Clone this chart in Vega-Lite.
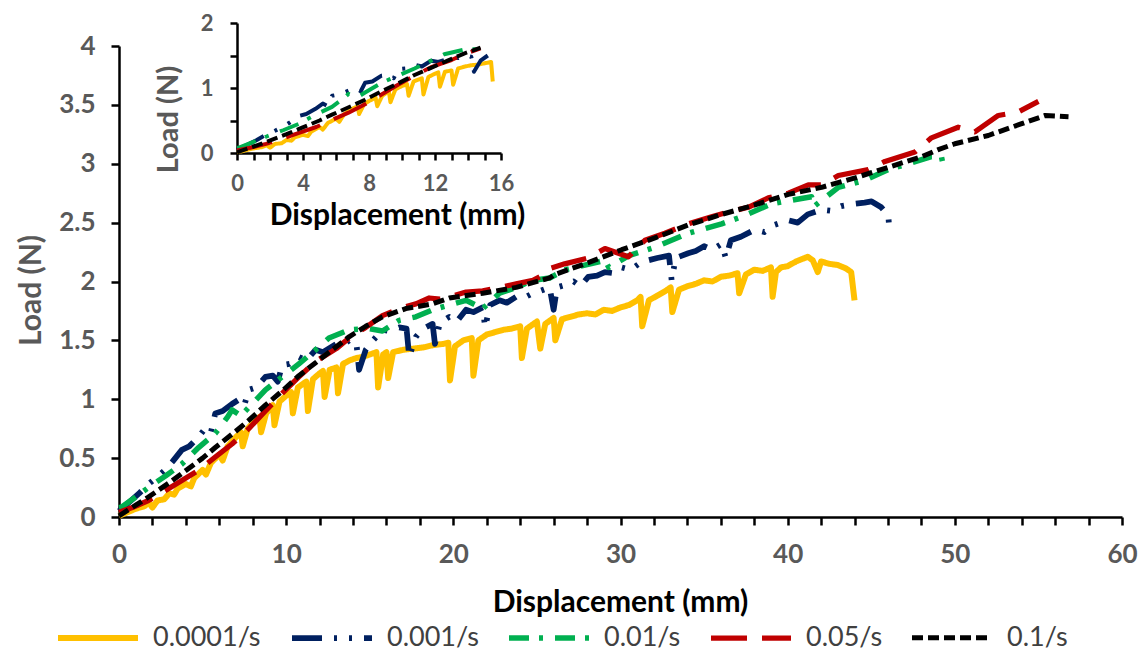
{
"$schema": "https://vega.github.io/schema/vega-lite/v6.json",
"width": 1003, "height": 471,
"autosize": {"type": "none"},
"padding": {"left": 119, "top": 46, "right": 23, "bottom": 134},
"background": "white",
"config": {
 "view": {"stroke": null},
 "font": "Lato",
 "axis": {"grid": false, "domainColor": "black", "domainWidth": 2.5, "tickColor": "black", "tickWidth": 2.5, "labelColor": "#595959", "labelFont": "Lato", "labelFontWeight": "bold", "titleFont": "Lato", "titleFontWeight": "bold", "labelFlush": false, "labelOverlap": false, "labelBound": false}
},
"data": {"values": [
{"s":"0.0001/s","x":0,"y":0.01},{"s":"0.0001/s","x":0.5,"y":0.04},{"s":"0.0001/s","x":1,"y":0.07},{"s":"0.0001/s","x":1.5,"y":0.09},{"s":"0.0001/s","x":1.8,"y":0.12},{"s":"0.0001/s","x":2.0,"y":0.08},{"s":"0.0001/s","x":2.3,"y":0.14},{"s":"0.0001/s","x":2.7,"y":0.15},{"s":"0.0001/s","x":3,"y":0.2},{"s":"0.0001/s","x":3.3,"y":0.19},{"s":"0.0001/s","x":3.5,"y":0.24},{"s":"0.0001/s","x":4,"y":0.28},{"s":"0.0001/s","x":4.3,"y":0.26},{"s":"0.0001/s","x":4.5,"y":0.33},{"s":"0.0001/s","x":5,"y":0.4},{"s":"0.0001/s","x":5.2,"y":0.36},{"s":"0.0001/s","x":5.5,"y":0.46},{"s":"0.0001/s","x":6,"y":0.53},{"s":"0.0001/s","x":6.2,"y":0.48},{"s":"0.0001/s","x":6.5,"y":0.6},{"s":"0.0001/s","x":7,"y":0.68},{"s":"0.0001/s","x":7.3,"y":0.72},{"s":"0.0001/s","x":7.4,"y":0.6},{"s":"0.0001/s","x":7.7,"y":0.75},{"s":"0.0001/s","x":8,"y":0.8},{"s":"0.0001/s","x":8.4,"y":0.85},{"s":"0.0001/s","x":8.5,"y":0.72},{"s":"0.0001/s","x":8.8,"y":0.88},{"s":"0.0001/s","x":9.2,"y":0.95},{"s":"0.0001/s","x":9.3,"y":0.78},{"s":"0.0001/s","x":9.6,"y":0.98},{"s":"0.0001/s","x":10,"y":1.03},{"s":"0.0001/s","x":10.3,"y":1.06},{"s":"0.0001/s","x":10.4,"y":0.88},{"s":"0.0001/s","x":10.7,"y":1.1},{"s":"0.0001/s","x":11,"y":1.13},{"s":"0.0001/s","x":11.2,"y":1.15},{"s":"0.0001/s","x":11.3,"y":0.9},{"s":"0.0001/s","x":11.6,"y":1.17},{"s":"0.0001/s","x":12.0,"y":1.22},{"s":"0.0001/s","x":12.2,"y":1.24},{"s":"0.0001/s","x":12.3,"y":1.02},{"s":"0.0001/s","x":12.6,"y":1.25},{"s":"0.0001/s","x":13,"y":1.27},{"s":"0.0001/s","x":13.1,"y":1.05},{"s":"0.0001/s","x":13.4,"y":1.3},{"s":"0.0001/s","x":13.8,"y":1.33},{"s":"0.0001/s","x":14.2,"y":1.35},{"s":"0.0001/s","x":14.6,"y":1.36},{"s":"0.0001/s","x":15.0,"y":1.38},{"s":"0.0001/s","x":15.4,"y":1.4},{"s":"0.0001/s","x":15.5,"y":1.1},{"s":"0.0001/s","x":15.8,"y":1.38},{"s":"0.0001/s","x":16.0,"y":1.4},{"s":"0.0001/s","x":16.1,"y":1.18},{"s":"0.0001/s","x":16.4,"y":1.4},{"s":"0.0001/s","x":17,"y":1.42},{"s":"0.0001/s","x":17.6,"y":1.43},{"s":"0.0001/s","x":18.2,"y":1.44},{"s":"0.0001/s","x":18.8,"y":1.46},{"s":"0.0001/s","x":19.4,"y":1.47},{"s":"0.0001/s","x":19.7,"y":1.48},{"s":"0.0001/s","x":19.8,"y":1.16},{"s":"0.0001/s","x":20.1,"y":1.45},{"s":"0.0001/s","x":20.6,"y":1.5},{"s":"0.0001/s","x":21.1,"y":1.52},{"s":"0.0001/s","x":21.2,"y":1.2},{"s":"0.0001/s","x":21.5,"y":1.5},{"s":"0.0001/s","x":22,"y":1.55},{"s":"0.0001/s","x":22.5,"y":1.57},{"s":"0.0001/s","x":23,"y":1.59},{"s":"0.0001/s","x":23.5,"y":1.6},{"s":"0.0001/s","x":24.0,"y":1.62},{"s":"0.0001/s","x":24.1,"y":1.35},{"s":"0.0001/s","x":24.4,"y":1.6},{"s":"0.0001/s","x":25,"y":1.66},{"s":"0.0001/s","x":25.2,"y":1.43},{"s":"0.0001/s","x":25.5,"y":1.64},{"s":"0.0001/s","x":26,"y":1.69},{"s":"0.0001/s","x":26.1,"y":1.5},{"s":"0.0001/s","x":26.5,"y":1.68},{"s":"0.0001/s","x":27,"y":1.7},{"s":"0.0001/s","x":27.5,"y":1.72},{"s":"0.0001/s","x":28,"y":1.73},{"s":"0.0001/s","x":28.5,"y":1.72},{"s":"0.0001/s","x":29,"y":1.76},{"s":"0.0001/s","x":29.5,"y":1.75},{"s":"0.0001/s","x":30,"y":1.78},{"s":"0.0001/s","x":30.5,"y":1.8},{"s":"0.0001/s","x":31,"y":1.84},{"s":"0.0001/s","x":31.2,"y":1.87},{"s":"0.0001/s","x":31.3,"y":1.62},{"s":"0.0001/s","x":31.7,"y":1.84},{"s":"0.0001/s","x":32.2,"y":1.88},{"s":"0.0001/s","x":32.7,"y":1.92},{"s":"0.0001/s","x":33.0,"y":1.95},{"s":"0.0001/s","x":33.1,"y":1.74},{"s":"0.0001/s","x":33.5,"y":1.93},{"s":"0.0001/s","x":34,"y":1.96},{"s":"0.0001/s","x":34.5,"y":1.98},{"s":"0.0001/s","x":35,"y":2.01},{"s":"0.0001/s","x":35.5,"y":2.0},{"s":"0.0001/s","x":36,"y":2.04},{"s":"0.0001/s","x":36.5,"y":2.05},{"s":"0.0001/s","x":37.0,"y":2.07},{"s":"0.0001/s","x":37.1,"y":1.9},{"s":"0.0001/s","x":37.5,"y":2.06},{"s":"0.0001/s","x":38,"y":2.1},{"s":"0.0001/s","x":38.5,"y":2.09},{"s":"0.0001/s","x":39.0,"y":2.12},{"s":"0.0001/s","x":39.1,"y":1.87},{"s":"0.0001/s","x":39.3,"y":2.08},{"s":"0.0001/s","x":39.6,"y":2.12},{"s":"0.0001/s","x":40,"y":2.13},{"s":"0.0001/s","x":40.5,"y":2.17},{"s":"0.0001/s","x":41.2,"y":2.21},{"s":"0.0001/s","x":41.5,"y":2.18},{"s":"0.0001/s","x":41.8,"y":2.08},{"s":"0.0001/s","x":42.0,"y":2.17},{"s":"0.0001/s","x":42.5,"y":2.15},{"s":"0.0001/s","x":43.0,"y":2.14},{"s":"0.0001/s","x":43.5,"y":2.11},{"s":"0.0001/s","x":43.8,"y":2.08},{"s":"0.0001/s","x":44.0,"y":1.84},
{"s":"0.001/s","x":0,"y":0.05},{"s":"0.001/s","x":0.4,"y":0.1},{"s":"0.001/s","x":0.8,"y":0.15},{"s":"0.001/s","x":1.2,"y":0.2},{"s":"0.001/s","x":1.76,"y":0.28},{"s":"0.001/s","x":2.2,"y":0.33},{"s":"0.001/s","x":2.76,"y":0.4},{"s":"0.001/s","x":3.2,"y":0.47},{"s":"0.001/s","x":3.76,"y":0.57},{"s":"0.001/s","x":4.2,"y":0.6},{"s":"0.001/s","x":4.76,"y":0.68},{"s":"0.001/s","x":5.2,"y":0.76},{"s":"0.001/s","x":5.5,"y":0.72},{"s":"0.001/s","x":5.76,"y":0.88},{"s":"0.001/s","x":6.2,"y":0.9},{"s":"0.001/s","x":6.76,"y":0.96},{"s":"0.001/s","x":7.2,"y":1.0},{"s":"0.001/s","x":7.5,"y":0.95},{"s":"0.001/s","x":7.76,"y":1.08},{"s":"0.001/s","x":8.2,"y":1.1},{"s":"0.001/s","x":8.76,"y":1.19},{"s":"0.001/s","x":9.2,"y":1.2},{"s":"0.001/s","x":9.5,"y":1.15},{"s":"0.001/s","x":9.76,"y":1.29},{"s":"0.001/s","x":10.2,"y":1.3},{"s":"0.001/s","x":10.76,"y":1.36},{"s":"0.001/s","x":11.2,"y":1.33},{"s":"0.001/s","x":11.76,"y":1.42},{"s":"0.001/s","x":12.2,"y":1.4},{"s":"0.001/s","x":13.0,"y":1.47},{"s":"0.001/s","x":13.4,"y":1.46},{"s":"0.001/s","x":13.76,"y":1.5},{"s":"0.001/s","x":14.2,"y":1.48},{"s":"0.001/s","x":14.36,"y":1.25},{"s":"0.001/s","x":14.76,"y":1.42},{"s":"0.001/s","x":15.2,"y":1.5},{"s":"0.001/s","x":15.76,"y":1.59},{"s":"0.001/s","x":16.2,"y":1.58},{"s":"0.001/s","x":16.76,"y":1.61},{"s":"0.001/s","x":17.2,"y":1.6},{"s":"0.001/s","x":17.36,"y":1.36},{"s":"0.001/s","x":17.76,"y":1.53},{"s":"0.001/s","x":18.2,"y":1.6},{"s":"0.001/s","x":18.76,"y":1.64},{"s":"0.001/s","x":18.9,"y":1.47},{"s":"0.001/s","x":19.2,"y":1.65},{"s":"0.001/s","x":19.76,"y":1.7},{"s":"0.001/s","x":20.2,"y":1.66},{"s":"0.001/s","x":20.76,"y":1.76},{"s":"0.001/s","x":21.2,"y":1.74},{"s":"0.001/s","x":21.76,"y":1.78},{"s":"0.001/s","x":21.9,"y":1.61},{"s":"0.001/s","x":22.2,"y":1.8},{"s":"0.001/s","x":22.76,"y":1.84},{"s":"0.001/s","x":23.2,"y":1.82},{"s":"0.001/s","x":23.76,"y":1.87},{"s":"0.001/s","x":24.2,"y":1.86},{"s":"0.001/s","x":24.76,"y":1.9},{"s":"0.001/s","x":25.2,"y":1.92},{"s":"0.001/s","x":25.76,"y":1.95},{"s":"0.001/s","x":26.0,"y":1.76},{"s":"0.001/s","x":26.2,"y":1.95},{"s":"0.001/s","x":26.7,"y":1.97},{"s":"0.001/s","x":27.2,"y":2.0},{"s":"0.001/s","x":27.6,"y":1.96},{"s":"0.001/s","x":28.07,"y":2.04},{"s":"0.001/s","x":28.6,"y":2.05},{"s":"0.001/s","x":29.07,"y":2.08},{"s":"0.001/s","x":29.6,"y":2.07},{"s":"0.001/s","x":30.07,"y":2.12},{"s":"0.001/s","x":30.6,"y":2.1},{"s":"0.001/s","x":31.2,"y":2.16},{"s":"0.001/s","x":31.66,"y":2.18},{"s":"0.001/s","x":32.2,"y":2.2},{"s":"0.001/s","x":32.9,"y":2.22},{"s":"0.001/s","x":33.06,"y":2.01},{"s":"0.001/s","x":33.3,"y":2.2},{"s":"0.001/s","x":34.05,"y":2.24},{"s":"0.001/s","x":34.5,"y":2.26},{"s":"0.001/s","x":35.0,"y":2.3},{"s":"0.001/s","x":35.5,"y":2.27},{"s":"0.001/s","x":36.05,"y":2.32},{"s":"0.001/s","x":36.3,"y":2.2},{"s":"0.001/s","x":36.6,"y":2.35},{"s":"0.001/s","x":37.2,"y":2.38},{"s":"0.001/s","x":38.04,"y":2.44},{"s":"0.001/s","x":38.6,"y":2.42},{"s":"0.001/s","x":39.2,"y":2.48},{"s":"0.001/s","x":40.04,"y":2.52},{"s":"0.001/s","x":40.6,"y":2.5},{"s":"0.001/s","x":41.2,"y":2.57},{"s":"0.001/s","x":42.03,"y":2.61},{"s":"0.001/s","x":42.6,"y":2.6},{"s":"0.001/s","x":43.2,"y":2.64},{"s":"0.001/s","x":44.03,"y":2.66},{"s":"0.001/s","x":44.6,"y":2.67},{"s":"0.001/s","x":45.02,"y":2.68},{"s":"0.001/s","x":45.6,"y":2.63},{"s":"0.001/s","x":46.02,"y":2.56},{"s":"0.001/s","x":46.1,"y":2.41},
{"s":"0.01/s","x":0,"y":0.08},{"s":"0.01/s","x":0.16,"y":0.085},{"s":"0.01/s","x":1,"y":0.17},{"s":"0.01/s","x":1.76,"y":0.25},{"s":"0.01/s","x":2.8,"y":0.35},{"s":"0.01/s","x":3.76,"y":0.45},{"s":"0.01/s","x":4.76,"y":0.59},{"s":"0.01/s","x":5.76,"y":0.71},{"s":"0.01/s","x":6.5,"y":0.85},{"s":"0.01/s","x":6.76,"y":0.91},{"s":"0.01/s","x":7.3,"y":0.86},{"s":"0.01/s","x":7.76,"y":0.93},{"s":"0.01/s","x":8.76,"y":1.08},{"s":"0.01/s","x":9.76,"y":1.19},{"s":"0.01/s","x":10.76,"y":1.3},{"s":"0.01/s","x":11.76,"y":1.42},{"s":"0.01/s","x":12.56,"y":1.52},{"s":"0.01/s","x":13.76,"y":1.59},{"s":"0.01/s","x":14.96,"y":1.6},{"s":"0.01/s","x":15.76,"y":1.58},{"s":"0.01/s","x":16.76,"y":1.67},{"s":"0.01/s","x":17.76,"y":1.7},{"s":"0.01/s","x":18.76,"y":1.76},{"s":"0.01/s","x":19.76,"y":1.8},{"s":"0.01/s","x":20.76,"y":1.84},{"s":"0.01/s","x":21.76,"y":1.77},{"s":"0.01/s","x":22.76,"y":1.9},{"s":"0.01/s","x":23.76,"y":1.95},{"s":"0.01/s","x":24.76,"y":2.01},{"s":"0.01/s","x":25.76,"y":2.03},{"s":"0.01/s","x":26.7,"y":2.1},{"s":"0.01/s","x":29.07,"y":2.18},{"s":"0.01/s","x":29.3,"y":2.12},{"s":"0.01/s","x":30.5,"y":2.22},{"s":"0.01/s","x":32.06,"y":2.29},{"s":"0.01/s","x":34.05,"y":2.41},{"s":"0.01/s","x":36.05,"y":2.49},{"s":"0.01/s","x":37.25,"y":2.55},{"s":"0.01/s","x":39.04,"y":2.66},{"s":"0.01/s","x":41.43,"y":2.72},{"s":"0.01/s","x":41.6,"y":2.64},{"s":"0.01/s","x":43.03,"y":2.8},{"s":"0.01/s","x":44.62,"y":2.86},{"s":"0.01/s","x":46.02,"y":2.95},{"s":"0.01/s","x":47.21,"y":3.0},{"s":"0.01/s","x":48.6,"y":3.06},{"s":"0.01/s","x":49.2,"y":3.06},{"s":"0.01/s","x":49.3,"y":2.99},
{"s":"0.05/s","x":0,"y":0.04},{"s":"0.05/s","x":0.8,"y":0.08},{"s":"0.05/s","x":1.76,"y":0.14},{"s":"0.05/s","x":2.5,"y":0.2},{"s":"0.05/s","x":3.76,"y":0.31},{"s":"0.05/s","x":4.8,"y":0.4},{"s":"0.05/s","x":5.76,"y":0.51},{"s":"0.05/s","x":6.76,"y":0.62},{"s":"0.05/s","x":7.76,"y":0.75},{"s":"0.05/s","x":8.76,"y":0.9},{"s":"0.05/s","x":9.76,"y":1.05},{"s":"0.05/s","x":10.76,"y":1.19},{"s":"0.05/s","x":11.76,"y":1.32},{"s":"0.05/s","x":13,"y":1.43},{"s":"0.05/s","x":13.76,"y":1.52},{"s":"0.05/s","x":14.76,"y":1.61},{"s":"0.05/s","x":15.76,"y":1.71},{"s":"0.05/s","x":16.76,"y":1.77},{"s":"0.05/s","x":17.76,"y":1.81},{"s":"0.05/s","x":18.56,"y":1.86},{"s":"0.05/s","x":19.2,"y":1.85},{"s":"0.05/s","x":19.76,"y":1.87},{"s":"0.05/s","x":20.76,"y":1.91},{"s":"0.05/s","x":21.76,"y":1.92},{"s":"0.05/s","x":22.76,"y":1.95},{"s":"0.05/s","x":23.76,"y":1.98},{"s":"0.05/s","x":24.76,"y":2.01},{"s":"0.05/s","x":25.3,"y":2.05},{"s":"0.05/s","x":25.76,"y":2.11},{"s":"0.05/s","x":26.66,"y":2.15},{"s":"0.05/s","x":28.07,"y":2.2},{"s":"0.05/s","x":29.07,"y":2.28},{"s":"0.05/s","x":30.47,"y":2.21},{"s":"0.05/s","x":31.46,"y":2.35},{"s":"0.05/s","x":32.66,"y":2.41},{"s":"0.05/s","x":34.05,"y":2.49},{"s":"0.05/s","x":35.45,"y":2.55},{"s":"0.05/s","x":36.45,"y":2.59},{"s":"0.05/s","x":37.64,"y":2.63},{"s":"0.05/s","x":38.84,"y":2.71},{"s":"0.05/s","x":40.04,"y":2.75},{"s":"0.05/s","x":41.23,"y":2.82},{"s":"0.05/s","x":42.03,"y":2.82},{"s":"0.05/s","x":43.03,"y":2.9},{"s":"0.05/s","x":44.82,"y":2.95},{"s":"0.05/s","x":45.82,"y":3.02},{"s":"0.05/s","x":47.61,"y":3.1},{"s":"0.05/s","x":48.6,"y":3.22},{"s":"0.05/s","x":50.2,"y":3.31},{"s":"0.05/s","x":51.2,"y":3.27},{"s":"0.05/s","x":52.6,"y":3.41},{"s":"0.05/s","x":53.8,"y":3.44},{"s":"0.05/s","x":55.0,"y":3.53},
{"s":"0.1/s","x":0,"y":0.01},{"s":"0.1/s","x":1,"y":0.1},{"s":"0.1/s","x":1.76,"y":0.17},{"s":"0.1/s","x":3,"y":0.29},{"s":"0.1/s","x":3.76,"y":0.37},{"s":"0.1/s","x":5,"y":0.5},{"s":"0.1/s","x":5.76,"y":0.59},{"s":"0.1/s","x":7,"y":0.73},{"s":"0.1/s","x":7.76,"y":0.82},{"s":"0.1/s","x":8.76,"y":0.95},{"s":"0.1/s","x":9.76,"y":1.07},{"s":"0.1/s","x":10.76,"y":1.2},{"s":"0.1/s","x":11.76,"y":1.31},{"s":"0.1/s","x":12.76,"y":1.42},{"s":"0.1/s","x":13.76,"y":1.53},{"s":"0.1/s","x":14.76,"y":1.62},{"s":"0.1/s","x":15.76,"y":1.7},{"s":"0.1/s","x":17.16,"y":1.77},{"s":"0.1/s","x":18.76,"y":1.81},{"s":"0.1/s","x":19.76,"y":1.86},{"s":"0.1/s","x":21.76,"y":1.9},{"s":"0.1/s","x":23.76,"y":1.95},{"s":"0.1/s","x":25.76,"y":2.03},{"s":"0.1/s","x":26.08,"y":2.06},{"s":"0.1/s","x":28.07,"y":2.16},{"s":"0.1/s","x":30.07,"y":2.27},{"s":"0.1/s","x":32.06,"y":2.37},{"s":"0.1/s","x":34.05,"y":2.48},{"s":"0.1/s","x":36.05,"y":2.57},{"s":"0.1/s","x":38.04,"y":2.65},{"s":"0.1/s","x":40.04,"y":2.74},{"s":"0.1/s","x":42.03,"y":2.8},{"s":"0.1/s","x":44.03,"y":2.88},{"s":"0.1/s","x":46.02,"y":2.97},{"s":"0.1/s","x":48.01,"y":3.06},{"s":"0.1/s","x":49.01,"y":3.12},{"s":"0.1/s","x":50,"y":3.17},{"s":"0.1/s","x":52,"y":3.24},{"s":"0.1/s","x":54,"y":3.34},{"s":"0.1/s","x":55.4,"y":3.41},{"s":"0.1/s","x":56.8,"y":3.4}
]},
"resolve": {"scale": {"x": "independent", "y": "independent"}, "axis": {"x": "independent", "y": "independent"}},
"layer": [
 {
  "mark": {"type": "line", "strokeJoin": "round"},
  "encoding": {
   "x": {"field": "x", "type": "quantitative", "scale": {"domain": [0, 60], "nice": false, "zero": false},
    "axis": {"title": "Displacement (mm)", "values": [0,2,4,6,8,10,12,14,16,18,20,22,24,26,28,30,32,34,36,38,40,42,44,46,48,50,52,54,56,58,60], "labelExpr": "datum.value % 10 === 0 ? datum.label : ''", "tickSize": 8, "labelFontSize": 26, "labelPadding": 16, "titleFontSize": 30, "titleColor": "black", "titleX": 501, "titleY": 85, "titleAlign": "center", "titleBaseline": "middle"}},
   "y": {"field": "y", "type": "quantitative", "scale": {"domain": [0, 4], "nice": false, "zero": false},
    "axis": {"title": "Load (N)", "values": [0,0.5,1,1.5,2,2.5,3,3.5,4], "format": "~g", "tickSize": 8, "labelFontSize": 26, "labelPadding": 16, "titleFontSize": 30, "titleColor": "#595959", "titleX": -88, "titleY": 244, "titleAlign": "center", "titleBaseline": "middle"}},
   "color": {"field": "s", "type": "nominal", "scale": {"domain": ["0.0001/s","0.001/s","0.01/s","0.05/s","0.1/s"], "range": ["#FFC000","#002060","#00B050","#C00000","#000000"]},
    "legend": {"title": null, "orient": "none", "legendX": -64, "legendY": 549, "direction": "horizontal", "columns": 5, "symbolType": "stroke", "symbolSize": 6400, "symbolStrokeWidth": 5, "labelFontSize": 27, "labelFont": "Lato", "labelColor": "#404040", "labelOffset": 12, "columnPadding": 19, "labelLimit": 300}},
   "strokeDash": {"field": "s", "type": "nominal", "scale": {"domain": ["0.0001/s","0.001/s","0.01/s","0.05/s","0.1/s"], "range": [[1,0],[30,12,3,12,3,12],[20,10,4,12],[36,15],[11,5]]},
    "legend": {"title": null, "orient": "none", "legendX": -64, "legendY": 549, "direction": "horizontal", "columns": 5, "symbolType": "stroke", "symbolSize": 6400, "symbolStrokeWidth": 5, "labelFontSize": 27, "labelFont": "Lato", "labelColor": "#404040", "labelOffset": 12, "columnPadding": 19, "labelLimit": 300}},
   "strokeWidth": {"field": "s", "type": "ordinal", "legend": null, "scale": {"domain": ["0.0001/s","0.001/s","0.01/s","0.05/s","0.1/s"], "range": [6,5,5,5.5,5]}}
  }
 },
 {
  "transform": [{"filter": "datum.x <= 15.5"}],
  "mark": {"type": "line", "strokeJoin": "round", "strokeWidth": 4},
  "encoding": {
   "x": {"field": "x", "type": "quantitative", "scale": {"domain": [0, 16], "range": [118, 382], "nice": false, "zero": false},
    "axis": {"orient": "bottom", "offset": -364, "title": "Displacement (mm)", "values": [0,1,2,3,4,5,6,7,8,9,10,11,12,13,14,15,16], "labelExpr": "datum.value % 4 === 0 ? datum.label : ''", "tickSize": 7, "labelFontSize": 22, "labelPadding": 13, "titleFontSize": 30, "titleColor": "black", "titleX": 278, "titleY": 62, "titleAlign": "center", "titleBaseline": "middle"}},
   "y": {"field": "y", "type": "quantitative", "scale": {"domain": [0, 2], "range": [107, -23], "nice": false, "zero": false},
    "axis": {"orient": "left", "offset": -118, "title": "Load (N)", "values": [0,0.5,1,1.5,2], "format": "~g", "labelExpr": "datum.value % 1 === 0 ? datum.label : ''", "tickSize": 7, "labelFontSize": 22, "labelPadding": 17, "titleFontSize": 29, "titleColor": "#595959", "titleX": -69, "titleY": 73, "titleAlign": "center", "titleBaseline": "middle"}},
   "color": {"field": "s", "type": "nominal"},
   "strokeDash": {"field": "s", "type": "nominal"}
  }
 }
]
}
